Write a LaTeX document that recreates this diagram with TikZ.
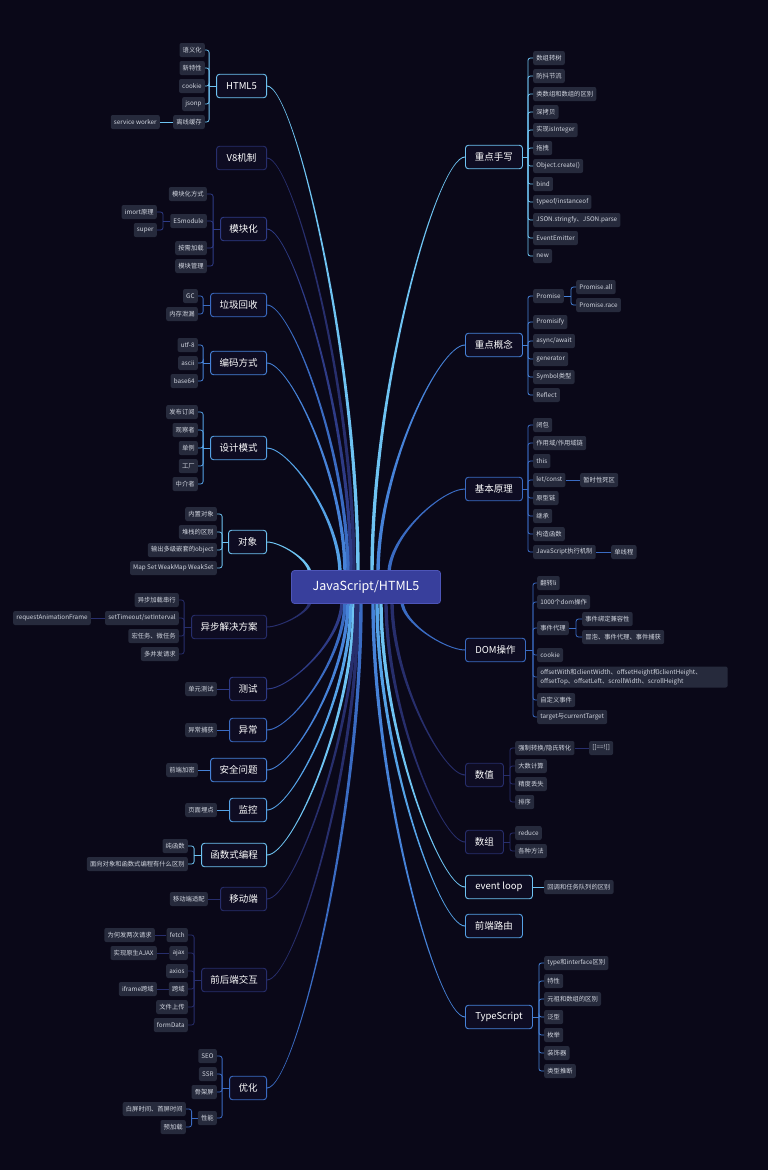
\documentclass[tikz,border=0pt]{standalone}
\usepackage{fontspec}
\newfontfamily\cjk{Noto Sans CJK SC}
\definecolor{bg}{HTML}{0A0818}
\definecolor{mainfill}{HTML}{0E0C22}
\definecolor{childfill}{HTML}{262A3C}
\definecolor{childtext}{HTML}{D2D6E0}
\definecolor{rootfill}{HTML}{383F9C}
\definecolor{rootdraw}{HTML}{4D55B8}
\definecolor{cL}{HTML}{6EC3F2}
\definecolor{cLM}{HTML}{55A2E6}
\definecolor{cM}{HTML}{4682D8}
\definecolor{cMM}{HTML}{3A6BC2}
\definecolor{cD}{HTML}{2E3B86}
\definecolor{cDD}{HTML}{272E6C}
\makeatletter
\newcommand\taperbranch[4]{%
  \pgfpointanchor{#1}{#2}%
  \edef\bxs{\strip@pt\pgf@x}\edef\bys{\strip@pt\pgf@y}%
  \pgfpointanchor{#3}{center}%
  \edef\bxe{\strip@pt\pgf@x}\edef\bye{\strip@pt\pgf@y}%
  \pgfmathsetmacro\bdx{\bxe-\bxs}%
  \pgfmathsetmacro\bdy{\bye-\bys}%
  \pgfmathsetmacro\bsx{\bdx>0?1:-1}%
  \pgfmathsetmacro\bsy{\bdy>0?1:-1}%
  \pgfmathsetmacro\bcx{\bxs+0.3*\bdx}%
  \pgfmathsetmacro\bcy{\bys+0.55*\bdy}%
  \pgfmathsetmacro\bya{\bys+0.5*\bsx}%
  \pgfmathsetmacro\byb{\bys-0.5*\bsx}%
  \pgfmathsetmacro\bxa{\bxe-1.7*\bsy}%
  \pgfmathsetmacro\bxb{\bxe+1.7*\bsy}%
  \fill[#4] (\bxs pt,\bya pt) .. controls (\bcx pt,\bya pt) and (\bxa pt,\bcy pt) .. (\bxa pt,\bye pt) -- (\bxb pt,\bye pt) .. controls (\bxb pt,\bcy pt) and (\bcx pt,\byb pt) .. (\bxs pt,\byb pt) -- cycle;
}
\makeatother
\newcommand\leftkids[4]{%
  \draw[conn=#4] (#1.west) -- ++(-#2,0) coordinate (sp);
  \foreach \kk in {#3} {\draw[conn=#4, rounded corners=2.5pt] (sp) |- (\kk.east);}%
}
\newcommand\rightkids[4]{%
  \draw[conn=#4] (#1.east) -- ++(#2,0) coordinate (sp);
  \foreach \kk in {#3} {\draw[conn=#4, rounded corners=2.5pt] (sp) |- (\kk.west);}%
}
\tikzset{
  mainbox/.style={draw=#1, line width=0.9pt, fill=mainfill, rounded corners=3pt, text=white,
    font=\cjk\fontsize{9.5}{11}\selectfont, minimum height=23.5pt, inner xsep=8pt, inner ysep=0pt},
  leftmain/.style={mainbox=#1, anchor=east},
  rightmain/.style={mainbox=#1, anchor=west},
  kid/.style={fill=childfill, rounded corners=2pt, text=childtext,
    font=\cjk\fontsize{6.3}{8.6}\selectfont, minimum height=14pt, inner xsep=3.2pt, inner ysep=0pt},
  lkid/.style={kid, anchor=east},
  rkid/.style={kid, anchor=west},
  conn/.style={draw=#1, line width=0.8pt},
}
\begin{document}
\begin{tikzpicture}[x=1pt,y=-1pt]
\fill[bg] (0,0) rectangle (768,1170);
\useasboundingbox (0,0) rectangle (768,1170);

% ---------- left side ----------
\node[leftmain=cL, minimum width=50pt] (html) at (267,86) {HTML5};
\node[lkid] (h1) at (205,50) {语义化};
\node[lkid] (h2) at (205,68) {新特性};
\node[lkid] (h3) at (205,86) {cookie};
\node[lkid] (h4) at (205,104) {jsonp};
\node[lkid] (h5) at (205,122) {离线缓存};
\node[lkid] (h51) at (160,122) {service worker};
\leftkids{html}{7}{h1,h2,h3,h4,h5}{cL}
\draw[conn=cL] (h5.west) -- (h51.east);

\node[leftmain=cDD, minimum width=50pt] (v8) at (267,158) {V8机制};

\node[leftmain=cD, minimum width=46pt] (mod) at (267,229) {模块化};
\node[lkid] (m1) at (207,194) {模块化方式};
\node[lkid] (m2) at (207,221) {ESmodule};
\node[lkid] (m3) at (207,248) {按需加载};
\node[lkid] (m4) at (207,266) {模块管理};
\node[lkid] (m21) at (157,212) {imort原理};
\node[lkid] (m22) at (157,230) {super};
\leftkids{mod}{7}{m1,m2,m3,m4}{cD}
\leftkids{m2}{7}{m21,m22}{cD}

\node[leftmain=cMM, minimum width=56pt] (gc) at (267,305) {垃圾回收};
\node[lkid] (g1) at (198,296) {GC};
\node[lkid] (g2) at (198,314) {内存泄漏};
\leftkids{gc}{7}{g1,g2}{cMM}

\node[leftmain=cM, minimum width=56pt] (enc) at (267,363) {编码方式};
\node[lkid] (e1) at (198,345) {utf-8};
\node[lkid] (e2) at (198,363) {ascii};
\node[lkid] (e3) at (198,381) {base64};
\leftkids{enc}{7}{e1,e2,e3}{cM}

\node[leftmain=cLM, minimum width=56pt] (des) at (267,448) {设计模式};
\node[lkid] (d1) at (198,412) {发布订阅};
\node[lkid] (d2) at (198,430) {观察者};
\node[lkid] (d3) at (198,448) {单例};
\node[lkid] (d4) at (198,466) {工厂};
\node[lkid] (d5) at (198,484) {中介者};
\leftkids{des}{7}{d1,d2,d3,d4,d5}{cLM}

\node[leftmain=cL, minimum width=38pt] (obj) at (267,542) {对象};
\node[lkid] (o1) at (217,514) {内置对象};
\node[lkid] (o2) at (217,532) {堆栈的区别};
\node[lkid] (o3) at (217,550) {输出多级嵌套的object};
\node[lkid] (o4) at (217,568) {Map Set WeakMap WeakSet};
\leftkids{obj}{6}{o1,o2,o3,o4}{cL}

\node[leftmain=cDD, minimum width=75pt] (asy) at (267,627) {异步解决方案};
\node[lkid] (a1) at (179,600) {异步加载串行};
\node[lkid] (a2) at (179,618) {setTimeout/setInterval};
\node[lkid] (a3) at (179,636) {宏任务、微任务};
\node[lkid] (a4) at (179,654) {多并发请求};
\node[lkid] (a21) at (91,618) {requestAnimationFrame};
\leftkids{asy}{7}{a1,a2,a3,a4}{cDD}
\draw[conn=cDD] (a2.west) -- (a21.east);

\node[leftmain=cD, minimum width=37pt] (test) at (267,689) {测试};
\node[lkid] (t1) at (217,689) {单元测试};
\draw[conn=cD] (test.west) -- (t1.east);

\node[leftmain=cMM, minimum width=37pt] (exc) at (267,730) {异常};
\node[lkid] (x1) at (217,730) {异常捕获};
\draw[conn=cMM] (exc.west) -- (x1.east);

\node[leftmain=cM, minimum width=56pt] (sec) at (267,770) {安全问题};
\node[lkid] (s1) at (198,770) {前端加密};
\draw[conn=cM] (sec.west) -- (s1.east);

\node[leftmain=cLM, minimum width=37pt] (mon) at (267,810) {监控};
\node[lkid] (n1) at (217,810) {页面埋点};
\draw[conn=cLM] (mon.west) -- (n1.east);

\node[leftmain=cL, minimum width=65pt] (fun) at (267,855) {函数式编程};
\node[lkid] (f1) at (188,846) {纯函数};
\node[lkid] (f2) at (188,864) {面向对象和函数式编程有什么区别};
\leftkids{fun}{7}{f1,f2}{cL}

\node[leftmain=cDD, minimum width=46pt] (mob) at (267,899) {移动端};
\node[lkid] (mb1) at (208,899) {移动端适配};
\draw[conn=cDD] (mob.west) -- (mb1.east);

\node[leftmain=cDD, minimum width=65pt] (fe) at (267,980) {前后端交互};
\node[lkid] (i1) at (188,935) {fetch};
\node[lkid] (i2) at (188,953) {ajax};
\node[lkid] (i3) at (188,971) {axios};
\node[lkid] (i4) at (188,989) {跨域};
\node[lkid] (i5) at (188,1007) {文件上传};
\node[lkid] (i6) at (188,1025) {formData};
\node[lkid] (i11) at (155,935) {为何发两次请求};
\node[lkid] (i21) at (157,953) {实现原生AJAX};
\node[lkid] (i41) at (157,989) {iframe跨域};
\leftkids{fe}{7}{i1,i2,i3,i4,i5,i6}{cDD}
\draw[conn=cDD] (i1.west) -- (i11.east);
\draw[conn=cDD] (i2.west) -- (i21.east);
\draw[conn=cDD] (i4.west) -- (i41.east);

\node[leftmain=cMM, minimum width=37pt] (opt) at (267,1088) {优化};
\node[lkid] (p1) at (217,1056) {SEO};
\node[lkid] (p2) at (217,1074) {SSR};
\node[lkid] (p3) at (217,1092) {骨架屏};
\node[lkid] (p4) at (217,1118) {性能};
\node[lkid] (p41) at (186,1109) {白屏时间、首屏时间};
\node[lkid] (p42) at (186,1127) {预加载};
\leftkids{opt}{7}{p1,p2,p3,p4}{cMM}
\leftkids{p4}{6}{p41,p42}{cMM}

% ---------- right side ----------
\node[rightmain=cL, minimum width=57pt] (hand) at (465,157) {重点手写};
\node[rkid] (k1) at (533,58) {数组转树};
\node[rkid] (k2) at (533,76) {防抖节流};
\node[rkid] (k3) at (533,94) {类数组和数组的区别};
\node[rkid] (k4) at (533,112) {深拷贝};
\node[rkid] (k5) at (533,130) {实现isInteger};
\node[rkid] (k6) at (533,148) {拖拽};
\node[rkid] (k7) at (533,166) {Object.create()};
\node[rkid] (k8) at (533,184) {bind};
\node[rkid] (k9) at (533,202) {typeof/instanceof};
\node[rkid] (k10) at (533,220) {JSON.stringfy、JSON.parse};
\node[rkid] (k11) at (533,238) {EventEmitter};
\node[rkid] (k12) at (533,256) {new};
\rightkids{hand}{5}{k1,k2,k3,k4,k5,k6,k7,k8,k9,k10,k11,k12}{cL}

\node[rightmain=cM, minimum width=57pt] (con) at (465,345) {重点概念};
\node[rkid] (c1) at (533,296) {Promise};
\node[rkid] (c11) at (576,287) {Promise.all};
\node[rkid] (c12) at (576,305) {Promise.race};
\node[rkid] (c2) at (533,322) {Promisify};
\node[rkid] (c3) at (533,341) {async/await};
\node[rkid] (c4) at (533,359) {generator};
\node[rkid] (c5) at (533,377) {Symbol类型};
\node[rkid] (c6) at (533,395) {Reflect};
\rightkids{con}{5}{c1,c2,c3,c4,c5,c6}{cM}
\rightkids{c1}{7}{c11,c12}{cM}

\node[rightmain=cMM, minimum width=57pt] (bas) at (465,489) {基本原理};
\node[rkid] (bs1) at (533,425) {闭包};
\node[rkid] (bs2) at (533,443) {作用域/作用域链};
\node[rkid] (bs3) at (533,461) {this};
\node[rkid] (bs4) at (533,480) {let/const};
\node[rkid] (bs5) at (533,498) {原型链};
\node[rkid] (bs6) at (533,516) {继承};
\node[rkid] (bs7) at (533,534) {构造函数};
\node[rkid] (bs8) at (533,552) {JavaScript执行机制};
\node[rkid] (bs41) at (580,480) {暂时性死区};
\node[rkid] (bs81) at (611,552) {单线程};
\rightkids{bas}{5}{bs1,bs2,bs3,bs4,bs5,bs6,bs7,bs8}{cMM}
\draw[conn=cMM] (bs4.east) -- (bs41.west);
\draw[conn=cMM] (bs8.east) -- (bs81.west);

\node[rightmain=cMM, minimum width=60pt] (dom) at (465,650) {DOM操作};
\node[rkid] (dm1) at (537,583) {翻转li};
\node[rkid] (dm2) at (537,602) {1000个dom操作};
\node[rkid] (dm3) at (537,628) {事件代理};
\node[rkid] (dm31) at (582,619) {事件绑定兼容性};
\node[rkid] (dm32) at (582,637) {冒泡、事件代理、事件捕获};
\node[rkid] (dm4) at (537,655) {cookie};
\node[rkid, align=left, text width=184pt, minimum height=21pt, inner ysep=2pt] (dm5) at (537,677)
  {offsetWith和clientWidth、offsetHeight和clientHeight、\\offsetTop、offsetLeft、scrollWidth、scrollHeight};
\node[rkid] (dm6) at (537,700) {自定义事件};
\node[rkid] (dm7) at (537,717) {target与currentTarget};
\rightkids{dom}{7}{dm1,dm2,dm3,dm4,dm5,dm6,dm7}{cMM}
\rightkids{dm3}{7}{dm31,dm32}{cMM}

\node[rightmain=cDD, minimum width=38pt] (num) at (465,775) {数值};
\node[rkid] (v1) at (515,748) {强制转换/隐氏转化};
\node[rkid] (v11) at (589,748) {[]==![]};
\node[rkid] (v2) at (515,766) {大数计算};
\node[rkid] (v3) at (515,784) {精度丢失};
\node[rkid] (v4) at (515,802) {排序};
\rightkids{num}{6}{v1,v2,v3,v4}{cDD}
\draw[conn=cDD] (v1.east) -- (v11.west);

\node[rightmain=cDD, minimum width=38pt] (arr) at (465,842) {数组};
\node[rkid] (r1) at (515,833) {reduce};
\node[rkid] (r2) at (515,851) {各种方法};
\rightkids{arr}{6}{r1,r2}{cDD}

\node[rightmain=cL, minimum width=67pt] (evl) at (465,887) {event loop};
\node[rkid] (el1) at (544,887) {回调和任务队列的区别};
\draw[conn=cL] (evl.east) -- (el1.west);

\node[rightmain=cLM, minimum width=57pt] (rt) at (465,926) {前端路由};

\node[rightmain=cM, minimum width=67pt] (ts) at (465,1017) {TypeScript};
\node[rkid] (ty1) at (544,963) {type和interface区别};
\node[rkid] (ty2) at (544,981) {特性};
\node[rkid] (ty3) at (544,999) {元祖和数组的区别};
\node[rkid] (ty4) at (544,1017) {泛型};
\node[rkid] (ty5) at (544,1035) {枚举};
\node[rkid] (ty6) at (544,1053) {装饰器};
\node[rkid] (ty7) at (544,1071) {类型推断};
\rightkids{ts}{6}{ty1,ty2,ty3,ty4,ty5,ty6,ty7}{cM}

% ---------- branch ends on the root ----------
\coordinate (qhtml) at (358,574);
\coordinate (qv8) at (354,574);
\coordinate (qmod) at (351,574);
\coordinate (qgc) at (348,574);
\coordinate (qenc) at (345,574);
\coordinate (qdes) at (340,574);
\coordinate (qobj) at (310,574);
\coordinate (qhand) at (372,574);
\coordinate (qcon) at (378,574);
\coordinate (qbas) at (389,574);
\coordinate (qasy) at (310,601);
\coordinate (qtest) at (342,601);
\coordinate (qexc) at (345,601);
\coordinate (qsec) at (348,601);
\coordinate (qmon) at (351,601);
\coordinate (qfun) at (354,601);
\coordinate (qmob) at (356,601);
\coordinate (qfe) at (358,601);
\coordinate (qopt) at (361,601);
\coordinate (qdom) at (402,601);
\coordinate (qnum) at (392,601);
\coordinate (qarr) at (386,601);
\coordinate (qevl) at (381,601);
\coordinate (qrt) at (377,601);
\coordinate (qts) at (373,601);

\taperbranch{html}{east}{qhtml}{cL}
\taperbranch{v8}{east}{qv8}{cDD}
\taperbranch{mod}{east}{qmod}{cD}
\taperbranch{gc}{east}{qgc}{cMM}
\taperbranch{enc}{east}{qenc}{cM}
\taperbranch{des}{east}{qdes}{cLM}
\taperbranch{obj}{east}{qobj}{cL}
\taperbranch{hand}{west}{qhand}{cL}
\taperbranch{con}{west}{qcon}{cM}
\taperbranch{bas}{west}{qbas}{cMM}
\taperbranch{asy}{east}{qasy}{cDD}
\taperbranch{test}{east}{qtest}{cD}
\taperbranch{exc}{east}{qexc}{cMM}
\taperbranch{sec}{east}{qsec}{cM}
\taperbranch{mon}{east}{qmon}{cLM}
\taperbranch{fun}{east}{qfun}{cL}
\taperbranch{mob}{east}{qmob}{cDD}
\taperbranch{fe}{east}{qfe}{cDD}
\taperbranch{opt}{east}{qopt}{cMM}
\taperbranch{dom}{west}{qdom}{cMM}
\taperbranch{num}{west}{qnum}{cDD}
\taperbranch{arr}{west}{qarr}{cDD}
\taperbranch{evl}{west}{qevl}{cL}
\taperbranch{rt}{west}{qrt}{cLM}
\taperbranch{ts}{west}{qts}{cM}

% ---------- root ----------
\node[fill=rootfill, draw=rootdraw, line width=0.8pt, rounded corners=3pt, minimum width=149pt, minimum height=33pt,
  inner sep=0pt, text=white, font=\cjk\fontsize{12.5}{14}\selectfont] (root) at (366,587) {JavaScript/HTML5};
\end{tikzpicture}
\end{document}
